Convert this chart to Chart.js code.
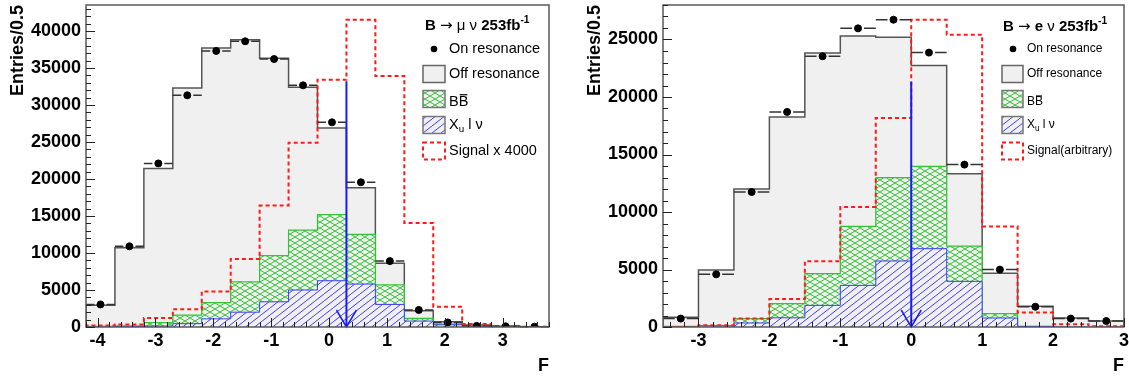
<!DOCTYPE html>
<html>
<head>
<meta charset="utf-8">
<script src="https://cdn.jsdelivr.net/npm/chart.js@4.4.1/dist/chart.umd.min.js"></script>
<style>
  html, body { margin: 0; padding: 0; background: #fff; }
  #wrap { position: relative; width: 1129px; height: 377px; overflow: hidden; }
  .panel { position: absolute; top: 0; height: 377px; }
  #muBox { left: 0; width: 560px; }
  #eBox { left: 560px; width: 569px; }
</style>
</head>
<body>
<div id="wrap">
  <div class="panel" id="muBox"><canvas id="muChart"></canvas></div>
  <div class="panel" id="eBox"><canvas id="eChart"></canvas></div>
</div>
<script>
const FONT = "'Liberation Sans', Arial, Helvetica, sans-serif";

// B -> mu nu, bins of 0.5 in F
const muEdges = [-4.2, -3.7, -3.2, -2.7, -2.2, -1.7, -1.2, -0.7, -0.2, 0.3, 0.8, 1.3, 1.8, 2.3, 2.8, 3.3, 3.8];
const muOn  = [3050, 10900, 22100, 31300, 37300, 38600, 36200, 32650, 27650, 19550, 8900, 2300, 620, 150, 90, 50];
const muOff = [2950, 10700, 21400, 32300, 37700, 38800, 36300, 32400, 26900, 18800, 8600, 2200, 700, 270, 100, 50];
const muBB  = [100, 150, 600, 1600, 3300, 6100, 9650, 13100, 15200, 12500, 5700, 1170, 400, 100, 0, 0];
const muXu  = [0, 50, 130, 450, 1100, 2000, 3400, 5000, 6250, 5800, 3050, 800, 300, 50, 0, 0];
const muSig = [200, 350, 1200, 2400, 4800, 9200, 16400, 24900, 33400, 41500, 33900, 14050, 2750, 400, 100, 30];
const muXTicks = [-4, -3, -2, -1, 0, 1, 2, 3];
const muYTicks = [0, 5000, 10000, 15000, 20000, 25000, 30000, 35000, 40000];
const muCut = [0.3, 33200];

// B -> e nu
const eEdges = [-3.5, -3, -2.5, -2, -1.5, -1, -0.5, 0, 0.5, 1, 1.5, 2, 2.5, 3];
const eOn  = [730, 4580, 11740, 18700, 23540, 25970, 26720, 23860, 14120, 4990, 1760, 730, 520];
const eOff = [850, 4950, 12000, 18260, 23830, 25300, 25200, 22750, 13330, 4680, 1800, 780, 520];
const eBB  = [60, 100, 720, 2030, 4640, 8750, 12990, 13970, 7040, 1160, 60, 0, 0];
const eXu  = [0, 90, 350, 800, 1880, 3620, 5740, 6810, 3970, 780, 50, 0, 0];
const eSig = [0, 150, 730, 2430, 5710, 10430, 18170, 26720, 25420, 8750, 1260, 230, 60];
const eXTicks = [-3, -2, -1, 0, 1, 2, 3];
const eYTicks = [0, 5000, 10000, 15000, 20000, 25000];
const eCut = [0, 21300];

const GREY = '#f0f0f0';
const GREEN = '#33c433';
const BLUE = '#3d3dff';
const RED = '#ff1a1a';

function stepPoints(edges, vals) {
  const last = edges.length - 1;
  const pts = [{ x: edges[0], y: 0 }];
  vals.forEach((v, i) => pts.push({ x: edges[i], y: v }));
  pts.push({ x: edges[last], y: vals[vals.length - 1] });
  pts.push({ x: edges[last], y: 0 });
  return pts;
}

function hatch(color, w, h, both) {
  const c = document.createElement('canvas');
  c.width = w; c.height = h;
  const g = c.getContext('2d');
  g.fillStyle = GREY;
  g.fillRect(0, 0, w, h);
  g.strokeStyle = color;
  g.lineWidth = 1;
  g.beginPath();
  for (const dx of [-w, 0, w]) {
    g.moveTo(dx, h); g.lineTo(dx + w, 0);
    if (both) { g.moveTo(dx, 0); g.lineTo(dx + w, h); }
  }
  g.stroke();
  return g.createPattern(c, 'repeat');
}

const greenHatch = hatch(GREEN, 10, 6, true);
const blueHatch = hatch(BLUE, 9, 7, false);

function drawParts(ctx, x, y, parts, size) {
  ctx.textBaseline = 'middle';
  ctx.textAlign = 'left';
  ctx.fillStyle = '#000';
  for (const p of parts) {
    const s = (p.sub || p.sup) ? size * 0.68 : size * (p.scale || 1);
    ctx.font = (p.bold ? 'bold ' : '') + s + 'px ' + (p.fam || FONT);
    const dy = p.sup ? -size * 0.36 : (p.sub ? size * 0.3 : 0);
    ctx.fillText(p.t, x, y + dy);
    const w = ctx.measureText(p.t).width;
    if (p.bar) {
      ctx.strokeStyle = '#000';
      ctx.lineWidth = 1.2;
      ctx.beginPath();
      ctx.moveTo(x + 1, y - size * 0.5);
      ctx.lineTo(x + w - 1, y - size * 0.5);
      ctx.stroke();
    }
    x += w;
  }
}

function drawLegend(ctx, L) {
  const bw = L.boxW, bh = L.boxH;
  drawParts(ctx, L.titleX, L.rows[0], L.title, L.titleSize);

  // on resonance
  ctx.fillStyle = '#000';
  ctx.beginPath();
  ctx.arc(L.dotX, L.rows[1], 3.3, 0, Math.PI * 2);
  ctx.fill();
  drawParts(ctx, L.textX, L.rows[1], [{ t: 'On resonance' }], L.size);

  const box = (cy, fill, stroke, dash) => {
    ctx.save();
    ctx.fillStyle = fill;
    ctx.fillRect(L.boxX, cy - bh / 2, bw, bh);
    ctx.strokeStyle = stroke;
    ctx.lineWidth = dash ? 2 : 1.5;
    ctx.setLineDash(dash || []);
    ctx.strokeRect(L.boxX, cy - bh / 2, bw, bh);
    ctx.restore();
  };
  box(L.rows[2], GREY, '#666');
  drawParts(ctx, L.textX, L.rows[2], [{ t: 'Off resonance' }], L.size);
  box(L.rows[3], greenHatch, '#777');
  drawParts(ctx, L.textX, L.rows[3] + 3, [{ t: 'B' }, { t: 'B', bar: true }], L.size);
  box(L.rows[4], blueHatch, '#777');
  drawParts(ctx, L.textX, L.rows[4], [{ t: 'X' }, { t: 'u', sub: true }, { t: ' l \u03bd' }], L.size);
  box(L.rows[5], '#fff', RED, [4, 3]);
  drawParts(ctx, L.textX, L.rows[5], [{ t: L.sigText }], L.size);
}

const rootFrame = {
  id: 'rootFrame',
  afterDatasetsDraw(chart, args, o) {
    const { ctx, chartArea: a } = chart;
    const x = chart.scales.x, y = chart.scales.y;
    ctx.save();

    // horizontal error bars of the on-resonance points
    ctx.strokeStyle = '#333';
    ctx.lineWidth = 1.5;
    ctx.beginPath();
    o.on.forEach((v, i) => {
      const xl = x.getPixelForValue(o.edges[i]);
      const xr = x.getPixelForValue(o.edges[i + 1]);
      const xc = (xl + xr) / 2;
      const py = y.getPixelForValue(v);
      ctx.moveTo(xl, py); ctx.lineTo(xc - 6, py);
      ctx.moveTo(xc + 6, py); ctx.lineTo(xr, py);
    });
    ctx.stroke();

    // arrow head of the cut
    const px = x.getPixelForValue(o.cut[0]);
    const p0 = y.getPixelForValue(0);
    ctx.strokeStyle = '#1a1aff';
    ctx.lineWidth = 1.5;
    ctx.beginPath();
    ctx.moveTo(px - 10, p0 - 17);
    ctx.lineTo(px, p0);
    ctx.lineTo(px + 10, p0 - 17);
    ctx.stroke();

    // frame
    ctx.strokeStyle = '#5a5a5a';
    ctx.lineWidth = 1.5;
    ctx.strokeRect(a.left, a.top, a.right - a.left, a.bottom - a.top);

    // inward ticks, ROOT style
    ctx.strokeStyle = '#222';
    ctx.lineWidth = 1;
    ctx.beginPath();
    for (let k = Math.ceil(x.min / 0.2 - 1e-6); k * 0.2 <= x.max + 1e-6; k++) {
      const v = k * 0.2;
      const major = Math.abs(v - Math.round(v)) < 1e-6;
      const p = Math.round(x.getPixelForValue(v)) + 0.5;
      ctx.moveTo(p, a.bottom);
      ctx.lineTo(p, a.bottom - (major ? 9 : 5));
    }
    for (let k = 0; k * 1000 <= y.max; k++) {
      const major = k % 5 === 0;
      const p = Math.round(y.getPixelForValue(k * 1000)) + 0.5;
      ctx.moveTo(a.left, p);
      ctx.lineTo(a.left + (major ? 9 : 5), p);
    }
    ctx.stroke();
    ctx.restore();
  },
  afterDraw(chart, args, o) {
    drawLegend(chart.ctx, o.legend);
  }
};

function makeChart(id, d) {
  const centers = d.on.map((v, i) => ({ x: (d.edges[i] + d.edges[i + 1]) / 2, y: v }));
  const tickFont = { family: FONT, size: 18, weight: 'bold' };
  return new Chart(document.getElementById(id), {
    type: 'line',
    data: {
      datasets: [
        { label: 'On resonance', data: centers, showLine: false, pointRadius: 3.5,
          pointBackgroundColor: '#000', pointBorderColor: '#000', order: 0 },
        { label: 'cut', data: [{ x: d.cut[0], y: d.cut[1] }, { x: d.cut[0], y: 0 }],
          borderColor: '#1a1aff', borderWidth: 2, pointRadius: 0, order: 1 },
        { label: 'Signal', data: stepPoints(d.edges, d.sig), stepped: true, borderColor: RED,
          borderWidth: 2, borderDash: [4, 3], pointRadius: 0, fill: false, order: 2 },
        { label: 'Xu l nu', data: stepPoints(d.edges, d.xu), stepped: true, borderColor: BLUE,
          borderWidth: 1, backgroundColor: blueHatch, pointRadius: 0, fill: 'origin', order: 3 },
        { label: 'BB', data: stepPoints(d.edges, d.bb), stepped: true, borderColor: GREEN,
          borderWidth: 1.2, backgroundColor: greenHatch, pointRadius: 0, fill: 'origin', order: 4 },
        { label: 'Off resonance', data: stepPoints(d.edges, d.off), stepped: true, borderColor: '#555',
          borderWidth: 1.5, backgroundColor: GREY, pointRadius: 0, fill: 'origin', order: 5 }
      ]
    },
    options: {
      responsive: true,
      maintainAspectRatio: false,
      animation: false,
      events: [],
      layout: { padding: { top: 5, right: d.padRight, left: 0, bottom: 0 } },
      plugins: {
        legend: { display: false },
        tooltip: { enabled: false },
        rootFrame: { edges: d.edges, on: d.on, cut: d.cut, legend: d.legend }
      },
      scales: {
        x: {
          type: 'linear',
          min: d.edges[0],
          max: d.edges[d.edges.length - 1],
          grid: { display: false, drawTicks: false },
          border: { display: false },
          afterBuildTicks: s => { s.ticks = d.xTicks.map(v => ({ value: v })); },
          afterFit: s => { s.height = 50; s.paddingLeft = 0; s.paddingRight = 0; },
          ticks: { autoSkip: false, maxRotation: 0, padding: 3, color: '#000', font: tickFont,
                   callback: v => String(v) },
          title: { display: true, text: 'F', align: 'end', color: '#000', padding: 0, font: tickFont }
        },
        y: {
          type: 'linear',
          min: 0,
          max: d.yMax,
          grid: { display: false, drawTicks: false },
          border: { display: false },
          afterBuildTicks: s => { s.ticks = d.yTicks.map(v => ({ value: v })); },
          afterFit: s => { s.width = d.yWidth; s.paddingTop = 0; s.paddingBottom = 0; },
          ticks: { autoSkip: false, padding: 5, color: '#000', font: tickFont, callback: v => String(v) },
          title: { display: true, text: 'Entries/0.5', align: 'end', color: '#000',
                   padding: { top: d.titlePad, bottom: 0 }, font: tickFont }
        }
      }
    },
    plugins: [rootFrame]
  });
}

const ARROW_FONT = "'DejaVu Sans', sans-serif";

makeChart('muChart', {
  edges: muEdges, on: muOn, off: muOff, bb: muBB, xu: muXu, sig: muSig,
  xTicks: muXTicks, yTicks: muYTicks, cut: muCut, yMax: 43500,
  yWidth: 86, padRight: 11, titlePad: 7,
  legend: {
    titleX: 425, titleSize: 15, size: 14.5, textX: 449, dotX: 434, boxX: 423, boxW: 22, boxH: 17,
    rows: [26, 49, 74, 99, 125, 151],
    title: [{ t: 'B ', bold: true }, { t: '\u2192', fam: ARROW_FONT }, { t: ' \u03bc \u03bd ' }, { t: '253fb', bold: true }, { t: '-1', bold: true, sup: true }],
    sigText: 'Signal x 4000'
  }
});

makeChart('eChart', {
  edges: eEdges, on: eOn, off: eOff, bb: eBB, xu: eXu, sig: eSig,
  xTicks: eXTicks, yTicks: eYTicks, cut: eCut, yMax: 28000,
  yWidth: 103, padRight: 2, titlePad: 24,
  legend: {
    titleX: 443, titleSize: 15, size: 12, textX: 467, dotX: 453, boxX: 442, boxW: 21, boxH: 17,
    rows: [27, 49, 74, 99, 125, 151],
    title: [{ t: 'B ', bold: true }, { t: '\u2192', fam: ARROW_FONT }, { t: ' e', bold: true }, { t: ' \u03bd ' }, { t: '253fb', bold: true }, { t: '-1', bold: true, sup: true }],
    sigText: 'Signal(arbitrary)'
  }
});
</script>
</body>
</html>
